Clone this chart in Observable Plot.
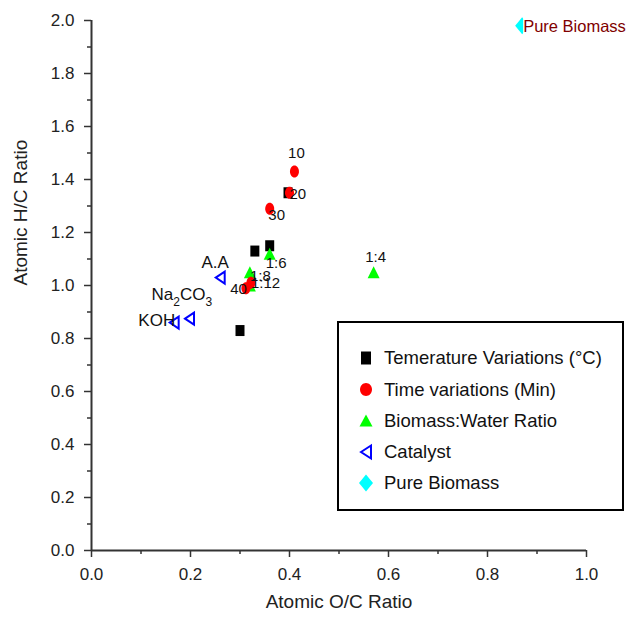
<!DOCTYPE html>
<html><head><meta charset="utf-8">
<script src="https://cdn.jsdelivr.net/npm/d3@7"></script>
<script src="https://cdn.jsdelivr.net/npm/@observablehq/plot@0.6"></script>
<style>body{margin:0;background:#fff;} svg{display:block;}</style>
</head><body><div id="chart"></div>
<script>
// ---- data ----
const tempX = [0.397, 0.33, 0.36, 0.30];
const tempY = [1.35, 1.13, 1.15, 0.83];

const timeLabels = ["10", "20", "30", "40", ""];
const timeX = [0.41, 0.40, 0.36, 0.312, 0.322];
const timeY = [1.43, 1.35, 1.29, 0.99, 1.01];

const ratioLabels = ["1:4", "1:6", "1:8", "1:12"];
const ratioX = [0.57, 0.36, 0.32, 0.32];
const ratioY = [1.05, 1.12, 1.05, 1.00];

const catLabels = ["A.A", "Na2CO3", "KOH"];
const catX = [0.26, 0.198, 0.167];
const catY = [1.03, 0.875, 0.86];

const pureLabels = ["Pure Biomass"];
const pureX = [0.87];
const pureY = [1.98];

const legendLabels = ["Temerature Variations (°C)", "Time variations (Min)", "Biomass:Water Ratio", "Catalyst", "Pure Biomass"];
const xMajor = [0, 0.2, 0.4, 0.6, 0.8, 1.0];
const xMinor = [0.1, 0.3, 0.5, 0.7, 0.9];
const yMajor = [0, 0.2, 0.4, 0.6, 0.8, 1.0, 1.2, 1.4, 1.6, 1.8, 2.0];
const yMinor = [0.1, 0.3, 0.5, 0.7, 0.9, 1.1, 1.3, 1.5, 1.7, 1.9];
const xTitle = "Atomic O/C Ratio";
const yTitle = "Atomic H/C Ratio";

// ---- symbols ----
const rectSym = (w, h) => ({draw(c) {c.moveTo(-w/2,-h/2);c.lineTo(w/2,-h/2);c.lineTo(w/2,h/2);c.lineTo(-w/2,h/2);c.closePath();}});
const ellSym = (w, h) => { const a=w/2,b=h/2,k=0.5523; return {draw(c){c.moveTo(a,0);c.bezierCurveTo(a,b*k,a*k,b,0,b);c.bezierCurveTo(-a*k,b,-a,b*k,-a,0);c.bezierCurveTo(-a,-b*k,-a*k,-b,0,-b);c.bezierCurveTo(a*k,-b,a,-b*k,a,0);c.closePath();}}; };
const triUp = (w, h) => ({draw(c){c.moveTo(0,-h/2);c.lineTo(w/2,h/2);c.lineTo(-w/2,h/2);c.closePath();}});
const triLeft = (w, h) => ({draw(c){c.moveTo(-w/2,0);c.lineTo(w/2,-h/2);c.lineTo(w/2,h/2);c.closePath();}});
const diamondSym = (w, h) => ({draw(c){c.moveTo(0,-h/2);c.lineTo(w/2,0);c.lineTo(0,h/2);c.lineTo(-w/2,0);c.closePath();}});

const zip = (xs, ys, ls) => xs.map((x, i) => ({x, y: ys[i], label: ls ? ls[i] : ""}));
const temp = zip(tempX, tempY);
const time = zip(timeX, timeY, timeLabels);
const ratio = zip(ratioX, ratioY, ratioLabels);
const cat = zip(catX, catY, catLabels);
const pure = zip(pureX, pureY, pureLabels);

// label placement (styling, not data)
const place = {
  "10": {dx: 2, dy: -18, anchor: "middle", size: 15},
  "20": {dx: 0, dy: 1, anchor: "start", size: 15},
  "30": {dx: 7, dy: 7, anchor: "middle", size: 15},
  "40": {dx: 1, dy: 1, anchor: "end", size: 15},
  "1:4": {dx: 2, dy: -15, anchor: "middle", size: 15},
  "1:6": {dx: -4, dy: 9, anchor: "start", size: 15},
  "1:8": {dx: 0, dy: 4, anchor: "start", size: 15},
  "1:12": {dx: 1, dy: -2, anchor: "start", size: 15},
  "A.A": {dx: -5, dy: -15, anchor: "middle", size: 17},
  "Na2CO3": {dx: -38, dy: -24, anchor: "start", size: 17},
  "KOH": {dx: 1, dy: -2, anchor: "end", size: 17},
  "Pure Biomass": {dx: 1, dy: 1, anchor: "start", size: 16.5, fill: "#800000"}
};
const labelMarks = [...time, ...ratio, ...cat, ...pure].filter(d => d.label).map(d => {
  const p = place[d.label];
  return Plot.text([d], {x: "x", y: "y", text: "label", dx: p.dx, dy: p.dy, textAnchor: p.anchor, fontSize: p.size, fill: p.fill || "#111"});
});

const SQ = rectSym(9, 11), CI = ellSym(9, 12), TR = triUp(12, 12), TL = triLeft(9, 12), DI = diamondSym(14, 17);

const axisCol = "#333";
const chart = Plot.plot({
  width: 628, height: 619,
  marginLeft: 91, marginRight: 42, marginTop: 20, marginBottom: 69,
  x: {domain: [0, 1]},
  y: {domain: [0, 2]},
  style: {fontFamily: "'Liberation Sans', Arial, sans-serif", background: "white", color: "#222"},
  marks: [
    Plot.axisX({ticks: xMajor, tickSize: 7, tickPadding: 10, tickFormat: d3.format(".1f"), fontSize: 17, label: null, stroke: axisCol, strokeWidth: 1.5}),
    Plot.axisX({ticks: xMinor, tickSize: 4, tickFormat: () => "", label: null, stroke: axisCol, strokeWidth: 1.5}),
    Plot.axisY({ticks: yMajor, tickSize: 7, tickPadding: 10, tickFormat: d3.format(".1f"), fontSize: 17, label: null, stroke: axisCol, strokeWidth: 1.5}),
    Plot.axisY({ticks: yMinor, tickSize: 4, tickFormat: () => "", label: null, stroke: axisCol, strokeWidth: 1.5}),
    Plot.ruleX([0], {stroke: axisCol, strokeWidth: 2}),
    Plot.ruleY([0], {stroke: axisCol, strokeWidth: 2}),
    Plot.text([xTitle], {frameAnchor: "bottom", dy: 57, fontSize: 19, fill: "#222", text: d => d}),
    Plot.text([yTitle], {frameAnchor: "left", dx: -71, rotate: -90, fontSize: 19, fill: "#222", text: d => d}),
    Plot.dot(temp, {x: "x", y: "y", symbol: SQ, fill: "black", stroke: "none", r: 5}),
    Plot.dot(ratio, {x: "x", y: "y", symbol: TR, fill: "#00FF00", stroke: "none", r: 6}),
    Plot.dot(time, {x: "x", y: "y", symbol: CI, fill: "#FF0000", stroke: "none", r: 5}),
    Plot.dot(cat, {x: "x", y: "y", symbol: TL, fill: "white", stroke: "#0000FF", strokeWidth: 2, r: 5}),
    Plot.dot(pure, {x: "x", y: "y", symbol: DI, fill: "#00FFFF", stroke: "none", r: 7}),
    ...labelMarks
  ]
});
document.getElementById("chart").appendChild(chart);

const svg = d3.select(chart);
// subscripts and label background
svg.selectAll("text").each(function() {
  const t = d3.select(this);
  if (this.textContent === "Na2CO3") {
    t.text(null);
    t.append("tspan").text("Na");
    t.append("tspan").attr("dy", 6).attr("font-size", 12).text("2");
    t.append("tspan").attr("dy", -6).text("CO");
    t.append("tspan").attr("dy", 6).attr("font-size", 12).text("3");
  }
  if (this.textContent === "Pure Biomass") {
    const b = this.getBBox();
    const tr = this.getAttribute("transform");
    d3.select(this.parentNode).insert("rect", () => this)
      .attr("x", b.x).attr("y", b.y).attr("width", b.width + 2).attr("height", b.height)
      .attr("transform", tr).attr("fill", "white");
  }
});

// legend
const lg = svg.append("g").attr("class", "legend")
  .attr("font-family", "'Liberation Sans', Arial, sans-serif").attr("text-anchor", "start");
lg.append("rect").attr("x", 338).attr("y", 322).attr("width", 285).attr("height", 188)
  .attr("fill", "white").attr("stroke", "black").attr("stroke-width", 2);
const legSyms = [
  {sym: rectSym(10, 13), fill: "black", stroke: "none"},
  {sym: ellSym(12, 13), fill: "#FF0000", stroke: "none"},
  {sym: triUp(13, 12), fill: "#00FF00", stroke: "none"},
  {sym: triLeft(10, 13), fill: "white", stroke: "#0000FF"},
  {sym: diamondSym(14, 17), fill: "#00FFFF", stroke: "none"}
];
const legY = [358, 389.5, 420.5, 452, 483];
legendLabels.forEach((lab, i) => {
  const s = legSyms[i];
  lg.append("path").attr("d", d3.symbol().type(s.sym)()).attr("transform", `translate(366,${legY[i]})`)
    .attr("fill", s.fill).attr("stroke", s.stroke).attr("stroke-width", 2);
  lg.append("text").attr("x", 384).attr("y", legY[i]).attr("dy", "0.35em").attr("text-anchor", "start")
    .attr("font-size", 18.5).attr("fill", "#111").text(lab);
});
</script>
</body></html>
